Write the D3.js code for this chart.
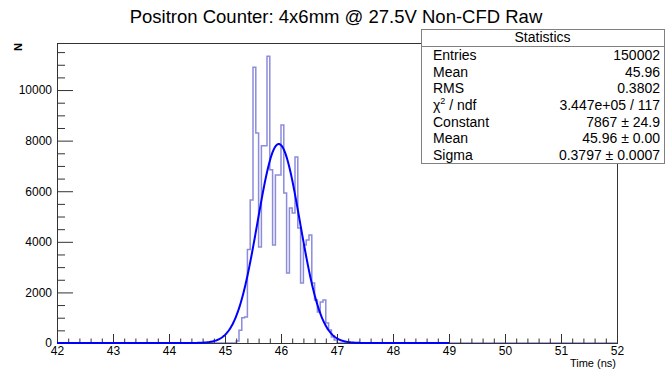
<!DOCTYPE html>
<html>
<head>
<meta charset="utf-8">
<script src="https://cdn.jsdelivr.net/npm/d3@7/dist/d3.min.js"></script>
<style>
  body { margin: 0; background: #fff; }
  svg { display: block; font-family: "Liberation Sans", Arial, Helvetica, sans-serif; }
</style>
</head>
<body>
<svg id="chart" width="669" height="369"></svg>
<script>
// chart data
const title = "Positron Counter: 4x6mm @ 27.5V Non-CFD Raw";
const xTicks = [42, 43, 44, 45, 46, 47, 48, 49, 50, 51, 52];
const yTicks = [0, 2000, 4000, 6000, 8000, 10000];
const yMax = 11860;

// histogram: 0.05 ns bins, non-empty bins start at 45.20 ns
const binWidth = 0.05;
const firstBin = 45.2;
const counts = [80, 500, 1000, 1030, 3700, 5650, 10900, 8300, 3800, 7800,
  7800, 11340, 6850, 3870, 6640, 6640, 8620, 5930, 2770, 5340,
  5140, 7350, 4550, 2370, 3870, 4070, 4270, 2370, 1700, 1225,
  1620, 1700, 790, 510, 240, 120];

// gaussian fit result
const fitConstant = 7867;
const fitMean = 45.96;
const fitSigma = 0.3797;
const fitRange = [42, 49];

const statLabels = ["Entries", "Mean", "RMS", "chi2", "Constant", "Mean", "Sigma"];
const statValues = ["150002", "45.96", "0.3802", "3.447e+05 / 117", "7867 \u00b1 24.9", "45.96 \u00b1 0.00", "0.3797 \u00b1 0.0007"];

const frame = { left: 57, top: 43, right: 617, bottom: 343 };

const svg = d3.select("#chart");

const x = d3.scaleLinear().domain([42, 52]).range([frame.left, frame.right]);
const y = d3.scaleLinear().domain([0, yMax]).range([frame.bottom, frame.top]);

// title
svg.append("text")
  .attr("x", 336)
  .attr("y", 23)
  .attr("text-anchor", "middle")
  .attr("font-size", 18.5)
  .text(title);

// histogram as a step line across the full range
const histPoints = [];
const nBins = Math.round((52 - 42) / binWidth);
for (let i = 0; i < nBins; i++) {
  const lo = 42 + i * binWidth;
  const k = Math.round((lo - firstBin) / binWidth);
  histPoints.push([lo, k >= 0 && k < counts.length ? counts[k] : 0]);
}
histPoints.push([52, 0]);

const step = d3.line()
  .x((d) => x(d[0]))
  .y((d) => y(d[1]))
  .curve(d3.curveStepAfter);

svg.append("path")
  .datum(histPoints)
  .attr("fill", "none")
  .attr("stroke", "#8c8cdc")
  .attr("stroke-width", 1.5)
  .attr("d", step);

// axes
const g = svg.append("g").attr("color", "#333");

const yMinor = d3.range(0, yMax, 500).filter((v) => v % 2000 !== 0);
g.append("g")
  .attr("transform", `translate(${frame.left},0)`)
  .call(d3.axisLeft(y).tickValues(yMinor).tickSize(-8).tickFormat(""))
  .call((s) => s.select(".domain").remove());
g.append("g")
  .attr("transform", `translate(${frame.left},0)`)
  .call(d3.axisLeft(y).tickValues(yTicks).tickSize(-16).tickPadding(5).tickFormat(d3.format("d")))
  .call((s) => s.select(".domain").remove())
  .call((s) => s.selectAll("text").attr("font-size", 12).attr("fill", "#000"));

const xMinor = d3.range(42, 52, 0.2).filter((v) => Math.abs(v - Math.round(v)) > 0.01);
g.append("g")
  .attr("transform", `translate(0,${frame.bottom})`)
  .call(d3.axisBottom(x).tickValues(xMinor).tickSize(-4.5).tickFormat(""))
  .call((s) => s.select(".domain").remove());
g.append("g")
  .attr("transform", `translate(0,${frame.bottom})`)
  .call(d3.axisBottom(x).tickValues(xTicks).tickSize(-9).tickPadding(3.5))
  .call((s) => s.select(".domain").remove())
  .call((s) => s.selectAll("text").attr("font-size", 12).attr("fill", "#000"));

// frame
svg.append("rect")
  .attr("x", frame.left + 0.5)
  .attr("y", frame.top + 0.5)
  .attr("width", frame.right - frame.left)
  .attr("height", frame.bottom - frame.top)
  .attr("fill", "none")
  .attr("stroke", "#333");

// axis titles
svg.append("text")
  .attr("transform", `translate(22,${frame.top}) rotate(-90)`)
  .attr("text-anchor", "end")
  .attr("font-size", 11)
  .attr("font-weight", "bold")
  .text("N");

svg.append("text")
  .attr("x", frame.right - 1)
  .attr("y", 367)
  .attr("text-anchor", "end")
  .attr("font-size", 11)
  .text("Time (ns)");

// fit curve
const fitPoints = d3.range(fitRange[0], fitRange[1] + 0.001, 0.01).map((t) =>
  [t, fitConstant * Math.exp(-0.5 * ((t - fitMean) / fitSigma) ** 2)]);

svg.append("path")
  .datum(fitPoints)
  .attr("fill", "none")
  .attr("stroke", "#0000ff")
  .attr("stroke-width", 2)
  .attr("d", d3.line().x((d) => x(d[0])).y((d) => y(d[1])));

// statistics box
const box = { x: 421, y: 29, w: 243, h: 134, header: 17 };
const stats = svg.append("g");
stats.append("rect")
  .attr("x", box.x + 0.5)
  .attr("y", box.y + 0.5)
  .attr("width", box.w)
  .attr("height", box.h)
  .attr("fill", "#fff")
  .attr("stroke", "#808080");
stats.append("line")
  .attr("x1", box.x)
  .attr("x2", box.x + box.w)
  .attr("y1", box.y + box.header + 0.5)
  .attr("y2", box.y + box.header + 0.5)
  .attr("stroke", "#808080");
stats.append("text")
  .attr("x", box.x + box.w / 2)
  .attr("y", box.y + 13)
  .attr("text-anchor", "middle")
  .attr("font-size", 14)
  .text("Statistics");

const rowH = 16.67;
statLabels.forEach((lab, i) => {
  const ty = 60 + i * rowH;
  const t = stats.append("text")
    .attr("x", 433)
    .attr("y", ty)
    .attr("font-size", 14);
  if (lab === "chi2") {
    t.append("tspan").text("\u03c7");
    t.append("tspan").attr("font-size", 9).attr("dy", -6).text("2");
    t.append("tspan").attr("dy", 6).text(" / ndf");
  } else {
    t.text(lab);
  }
  stats.append("text")
    .attr("x", 660)
    .attr("y", ty)
    .attr("text-anchor", "end")
    .attr("font-size", 14)
    .text(statValues[i]);
});
</script>
</body>
</html>
